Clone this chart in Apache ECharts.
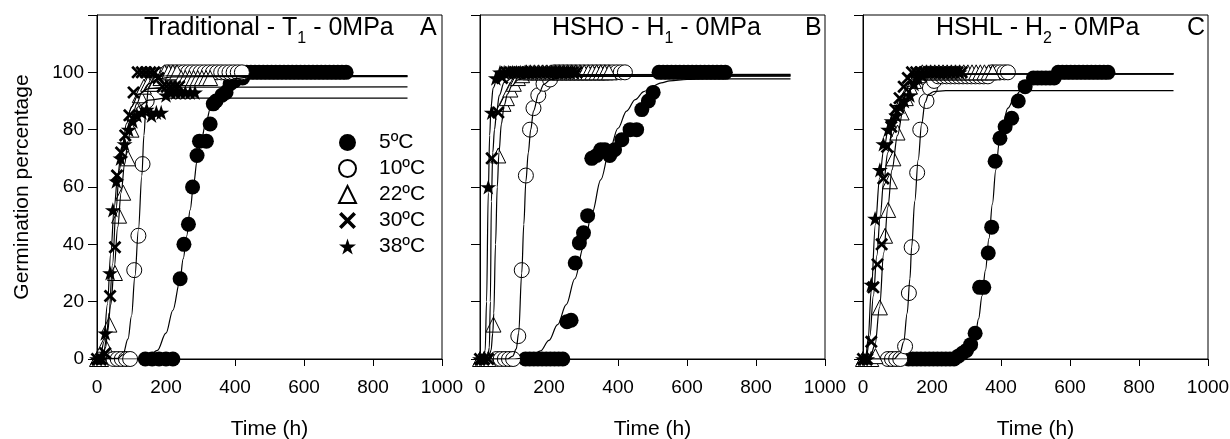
<!DOCTYPE html>
<html>
<head>
<meta charset="utf-8">
<script src="https://cdn.jsdelivr.net/npm/echarts@6/dist/echarts.min.js"></script>
<style>
  html, body { margin: 0; padding: 0; background: #fff; }
  #chart { width: 1230px; height: 439px; }
</style>
</head>
<body>
<div id="chart"></div>
<script>
// legend names
const temps = ['5ºC', '10ºC', '22ºC', '30ºC', '38ºC'];
const xTicks = [0, 200, 400, 600, 800, 1000];

// panel A - Traditional (time h, germination %)
const a5 = [[140,0],[160,0],[180,0],[200,0],[220,0],[241,28],[252,40],[265,47],[277,60],[290,71],[297,76],[317,76],[328,82],[337,89],[345,90],[362,92],[374,93],[386,96],[398,97],[410,98],[422,98],[434,100],[446,100],[458,100],[470,100],[482,100],[494,100],[506,100],[518,100],[530,100],[542,100],[554,100],[566,100],[578,100],[590,100],[602,100],[614,100],[626,100],[638,100],[650,100],[662,100],[674,100],[686,100],[698,100],[710,100],[722,100]];
const a10 = [[48,0],[60,0],[72,0],[84,0],[96,0],[108,31],[120,43],[132,68],[144,90],[156,96],[168,98],[180,99],[192,99],[204,100],[216,100],[228,100],[240,100],[252,100],[264,100],[276,100],[288,100],[300,100],[312,100],[324,100],[336,100],[348,100],[360,100],[372,100],[384,100],[396,100],[408,100],[420,100]];
const a22 = [[0,0],[12,0],[22,5],[36,12],[52,30],[64,50],[76,58],[90,70],[100,80],[112,88],[124,92],[136,95],[148,96],[160,96],[172,97],[184,98],[196,100],[208,100],[220,100],[232,100],[244,98],[256,98],[268,98],[280,98],[292,98],[304,98],[316,98],[328,98]];
const a30 = [[0,0],[12,0],[24,2],[38,22],[52,39],[58,64],[70,72],[82,78],[94,85],[106,93],[118,100],[130,100],[142,100],[154,100],[166,100],[178,98],[190,95],[202,95],[214,95],[226,95],[238,95]];
const a38 = [[0,0],[12,0],[24,9],[38,30],[46,52],[56,62],[68,70],[80,75],[92,80],[104,83],[116,85],[130,86],[144,87],[158,85],[172,86],[186,86],[200,92],[214,93],[228,93],[242,93],[256,93],[270,93],[284,93]];

// panel B - HSHO
const b5 = [[132,0],[144,0],[156,0],[168,0],[180,0],[192,0],[204,0],[216,0],[228,0],[240,0],[252,13],[264,13.5],[276,33.5],[288,40.5],[300,44],[312,50],[324,70],[338,71],[350,73],[362,73],[376,71],[390,73],[411,76.5],[435,80],[454,80],[469,87],[488,90],[502,93],[519,100],[531,100],[543,100],[555,100],[567,100],[579,100],[591,100],[603,100],[615,100],[627,100],[639,100],[651,100],[663,100],[675,100],[687,100],[699,100],[711,100]];
const b10 = [[48,0],[60,0],[72,0],[84,0],[96,0],[111,8],[121,31],[133,64],[145,80],[155,87.5],[169,92],[184,96],[203,97.5],[216,100],[228,100],[240,100],[252,100],[264,100],[276,100],[288,100],[300,100],[312,100],[324,100],[336,100],[348,100],[360,100],[372,100],[384,100],[396,100],[408,100],[420,100]];
const b22 = [[0,0],[12,0],[24,0],[39,12],[53,71],[68,89],[78,91],[88,94],[98,96],[110,98],[122,99],[134,100],[146,100],[158,100],[170,100],[182,100],[194,100],[206,100],[218,100],[230,100],[242,100],[254,100],[266,100],[278,100],[290,100],[302,100],[314,100],[326,100],[338,100],[350,100],[362,100],[374,100]];
const b30 = [[0,0],[12,0],[24,0],[34,70],[53,86],[64,98],[76,100],[88,100],[100,100],[112,100],[124,100],[136,100],[148,100],[160,100],[172,100],[184,100],[196,100],[208,100],[220,100],[232,100],[244,100],[256,100],[268,100],[280,100]];
const b38 = [[0,0],[12,0],[24,60],[34,86],[46,98],[58,100],[70,100],[82,100],[94,100],[106,100],[118,100],[130,100],[142,100],[154,100],[166,100],[178,100],[190,100],[202,100],[214,100],[226,100],[238,100],[250,100],[262,100],[274,100]];

// panel C - HSHL
const c5 = [[132,0],[144,0],[156,0],[168,0],[180,0],[192,0],[204,0],[216,0],[228,0],[240,0],[252,0],[264,0],[276,1],[288,2],[300,3],[312,5],[325,9],[338,25],[350,25],[363,37],[373,46],[383,69],[397,77],[412,81],[431,84],[450,90],[470,95],[494,98],[506,98],[518,98],[530,98],[542,98],[554,98],[566,100],[578,100],[590,100],[602,100],[614,100],[626,100],[638,100],[650,100],[662,100],[674,100],[686,100],[698,100],[710,100]];
const c10 = [[72,0],[84,0],[96,0],[108,0],[122,4.4],[133,23],[141,39],[157,65],[166,80],[184,90],[194,94.5],[206,97],[218,98.6],[230,98.6],[242,98.6],[254,98.6],[266,98.6],[278,98.6],[290,98.6],[302,98.6],[314,98.6],[326,98.6],[338,98.6],[350,98.6],[362,98.6],[374,100],[386,100],[398,100],[410,100],[420,100]];
const c22 = [[0,0],[12,0],[24,0],[36,1],[49,18],[64,43],[73,52],[78,62],[88,70],[100,79],[112,86],[124,91],[136,95],[148,97],[160,99],[172,100],[184,100],[196,100],[208,100],[220,100],[232,100],[244,100],[256,100],[268,100],[280,100],[292,100],[304,100],[316,100],[328,100],[340,100],[352,100],[364,100],[376,100]];
const c30 = [[0,0],[12,0],[24,6],[30,25],[42,33],[54,40],[59,63],[70,74],[82,81],[94,87],[106,91],[118,95],[130,98],[142,100],[154,100],[166,100],[178,100],[190,100],[202,100],[214,100],[226,100],[238,100],[250,100],[262,100],[274,100],[286,100]];
const c38 = [[0,0],[12,0],[24,26],[35,49],[49,66],[59,75],[73,80],[83,83],[96,85],[107,88],[120,90],[136,92],[148,96],[160,98],[172,99],[184,100],[196,100],[208,100],[220,100],[232,100],[244,100],[256,100],[268,100],[280,100]];

// fitted curves
const fa5 = [[0,0],[120,0],[150,1],[175,3],[200,9],[220,17],[240,27],[250,35],[260,43],[270,52],[280,61],[290,69],[300,75],[315,82],[330,88],[350,93],[375,96.5],[400,97.8],[450,98.5],[520,98.7],[900,98.7]];
const fa10 = [[0,0],[60,0.2],[75,1.5],[90,7],[100,15],[110,29],[120,45],[130,64],[136,78],[142,88],[150,95],[165,98.2],[200,98.8],[900,98.9]];
const fa22 = [[0,0],[10,0.5],[20,3],[30,9],[40,19],[50,32],[60,46],[70,58],[80,68],[90,76],[100,83],[115,89],[130,93],[150,96],[175,97.7],[220,98.4],[300,98.5],[900,98.5]];
const fa30 = [[0,0],[15,0.5],[25,4],[35,16],[45,33],[55,52],[65,66],[75,75],[85,82],[100,88],[120,92.3],[150,94.3],[200,94.8],[900,94.9]];
const fa38 = [[0,0],[10,1],[20,6],[30,19],[40,37],[50,53],[60,64],[70,72],[80,77],[100,84],[120,88],[150,90.3],[200,91],[900,91]];

const fb5 = [[0,0],[100,0],[125,0.2],[150,0.8],[175,2.8],[200,6.5],[225,12],[250,19],[275,28],[300,39],[325,51],[350,62.5],[375,72.5],[400,80.5],[425,86.5],[450,90.5],[475,93.3],[500,95.2],[525,96.3],[550,97],[600,97.5],[650,97.7],[900,97.7]];
const fb10 = [[0,0],[80,0],[95,1],[105,3.5],[112,9],[121,30],[127,47],[133,62],[140,72],[147,80],[155,86.5],[170,92.5],[185,95.8],[205,97.5],[240,98.3],[300,98.6],[900,98.7]];
const fb22 = [[0,0],[25,0.3],[32,3],[37,9],[40,16],[45,40],[50,60],[55,72],[62,82],[70,88.5],[80,92.5],[92,95.3],[110,97.4],[140,98.5],[200,98.8],[900,98.8]];
const fb30 = [[0,0],[22,0.3],[27,4],[30,20],[33,55],[37,72],[42,80],[48,86],[56,92],[70,96.5],[100,98.6],[150,99],[900,99]];
const fb38 = [[0,0],[10,0.3],[15,3],[19,20],[24,58],[28,78],[32,88],[38,94.5],[50,98],[80,99.2],[900,99.3]];

const fc5 = [[0,0],[250,0],[275,0.3],[300,1.5],[315,4],[325,8],[335,14],[345,22],[355,31],[365,42],[375,54],[385,66],[395,75.5],[405,82],[420,87.5],[440,91.5],[460,94],[480,95.8],[500,97],[530,98.2],[570,98.9],[650,99.3],[900,99.4]];
const fc10 = [[0,0],[90,0],[107,2],[118,6],[128,16],[136,28],[141,39],[150,55],[160,69.5],[170,82],[180,89.5],[190,92.3],[205,93.3],[240,93.6],[900,93.6]];
const fc22 = [[0,0],[20,0.5],[35,5],[48,18],[60,37],[72,53],[84,66],[100,78],[115,86],[130,92],[145,95.5],[165,97.8],[200,99],[260,99.5],[900,99.5]];
const fc30 = [[0,0],[10,1],[20,8],[30,22],[40,36],[50,50],[60,62],[72,72],[85,80],[100,86.5],[120,91.5],[145,95.5],[180,98.3],[250,99.4],[900,99.5]];
const fc38 = [[0,0],[8,1],[15,7],[24,24],[36,47],[48,63],[60,73],[75,81.5],[90,87],[110,91.5],[135,95.2],[170,98],[230,99.3],[900,99.5]];

const points = [[a5, a10, a22, a30, a38], [b5, b10, b22, b30, b38], [c5, c10, c22, c30, c38]];
const fits = [[fa5, fa10, fa22, fa30, fa38], [fb5, fb10, fb22, fb30, fb38], [fc5, fc10, fc22, fc30, fc38]];

const FONT = 'Liberation Sans, Arial, sans-serif';
const lefts = [97, 480, 863];

const symbols = [
  'circle',
  'circle',
  'triangle',
  'path://M0,3L3,0L10,7L17,0L20,3L13,10L20,17L17,20L10,13L3,20L0,17L7,10Z',
  'path://M50,0L61.2,34.5L97.6,34.5L68.2,55.9L79.4,90.5L50,69.1L20.6,90.5L31.8,55.9L2.4,34.5L38.8,34.5Z'
];
const symbolSizes = [15, 15, 15, 13, 16];
const itemStyles = [
  { color: '#000', opacity: 1 },
  { color: '#fff', borderColor: '#000', borderWidth: 1, opacity: 1 },
  { color: '#fff', borderColor: '#000', borderWidth: 1, opacity: 1 },
  { color: '#000', opacity: 1 },
  { color: '#000', opacity: 1 }
];

// fixed plot boxes, no automatic shrinking
const grids = lefts.map(l => ({
  left: l, top: 15, width: 345, height: 344, show: true, borderColor: '#000', borderWidth: 1,
  containLabel: false, outerBoundsMode: 'none'
}));

const xAxes = lefts.map((l, i) => ({
  gridIndex: i, type: 'value', min: xTicks[0], max: xTicks[xTicks.length - 1], interval: 200,
  axisLine: { show: true, onZero: false, lineStyle: { color: '#000', width: 1 } },
  axisTick: { show: true, length: 7, lineStyle: { color: '#000' } },
  axisLabel: { fontSize: 19, color: '#000', margin: 19, fontFamily: FONT, formatter: v => String(v) },
  splitLine: { show: false },
  name: 'Time (h)', nameLocation: 'middle', nameGap: 60,
  nameTextStyle: { fontSize: 21, color: '#000', fontFamily: FONT }
}));

const yAxes = lefts.map((l, i) => ({
  gridIndex: i, type: 'value', min: 0, max: 120, interval: 20,
  axisLine: { show: true, onZero: false, lineStyle: { color: '#000', width: 1 } },
  axisTick: { show: true, length: 9, lineStyle: { color: '#000' } },
  axisLabel: {
    show: i === 0, fontSize: 19, color: '#000', margin: 13, fontFamily: FONT,
    formatter: v => (v > 100 ? '' : String(v))
  },
  splitLine: { show: false },
  name: i === 0 ? 'Germination percentage' : '',
  nameLocation: 'middle', nameGap: 64,
  nameTextStyle: { fontSize: 21, color: '#000', fontFamily: FONT }
}));

const series = [];
points.forEach((panel, i) => {
  panel.forEach((pts, j) => {
    series.push({
      name: temps[j], type: 'scatter', xAxisIndex: i, yAxisIndex: i,
      data: pts, symbol: symbols[j], symbolSize: symbolSizes[j], symbolKeepAspect: true,
      itemStyle: itemStyles[j], z: 2, silent: true, clip: false
    });
  });
});
fits.forEach((panel, i) => {
  panel.forEach((pts, j) => {
    series.push({
      type: 'line', xAxisIndex: i, yAxisIndex: i, data: pts,
      showSymbol: false, symbol: 'none', smooth: 0.35, smoothMonotone: 'x',
      lineStyle: { color: '#000', width: 1.2 }, z: 3, silent: true
    });
  });
});

const titleRich = {
  a: { fontSize: 25, fontWeight: 'normal', fontFamily: FONT, color: '#000', lineHeight: 25, verticalAlign: 'top' },
  s: { fontSize: 16, fontWeight: 'normal', fontFamily: FONT, color: '#000', lineHeight: 16, verticalAlign: 'top', padding: [15, 0, 0, 0] }
};
const titles = [
  { text: '{a|Traditional - T}{s|1}{a| - 0MPa}', left: 144 },
  { text: '{a|A}', left: 420 },
  { text: '{a|HSHO - H}{s|1}{a| - 0MPa}', left: 552 },
  { text: '{a|B}', left: 805 },
  { text: '{a|HSHL - H}{s|2}{a| - 0MPa}', left: 936 },
  { text: '{a|C}', left: 1187 }
].map(t => Object.assign(t, { top: 16, padding: 0, textStyle: { fontWeight: 'normal', rich: titleRich } }));

const chart = echarts.init(document.getElementById('chart'));
chart.setOption({
  animation: false,
  backgroundColor: '#fff',
  textStyle: { fontFamily: FONT },
  title: titles,
  grid: grids,
  xAxis: xAxes,
  yAxis: yAxes,
  legend: {
    data: temps, orient: 'vertical', left: 333, top: 127,
    itemWidth: 17, itemHeight: 17, itemGap: 5,
    selectedMode: false,
    textStyle: { fontSize: 21, color: '#000', fontFamily: FONT, lineHeight: 21, padding: [0, 0, 0, 18] }
  },
  series: series
});
</script>
</body>
</html>
